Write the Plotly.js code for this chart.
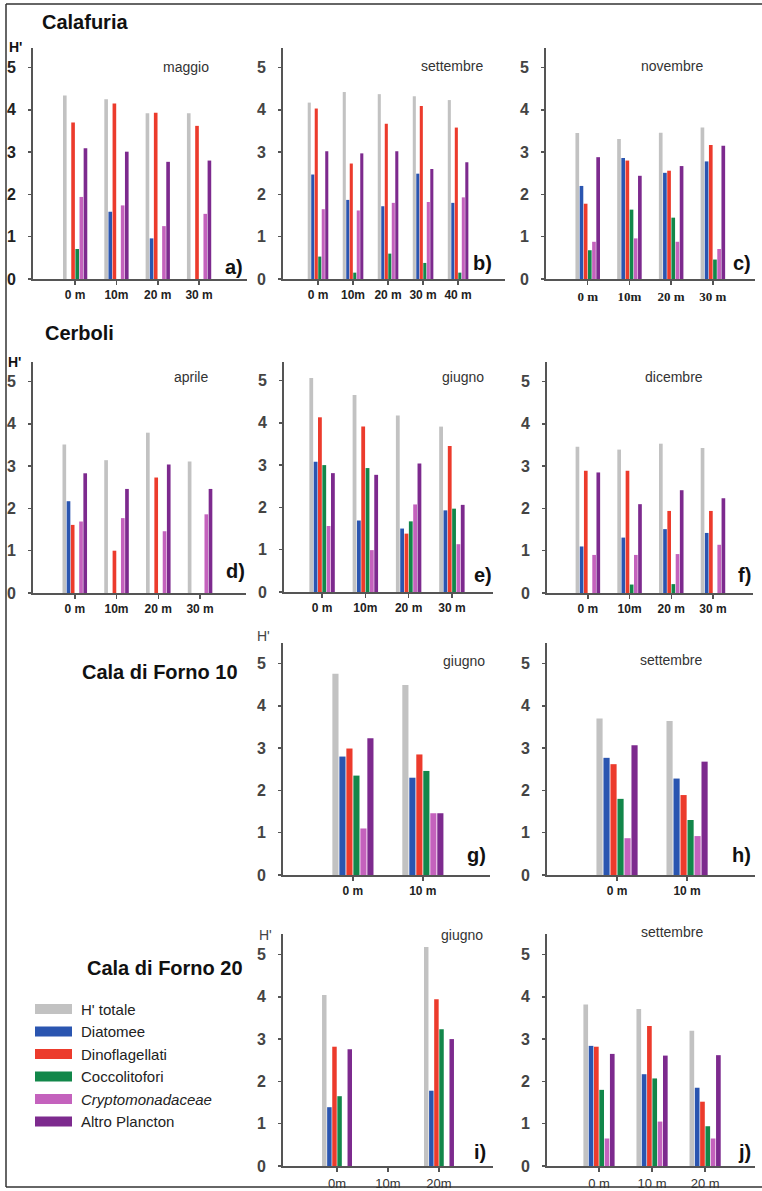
<!DOCTYPE html>
<html><head><meta charset="utf-8">
<script src="https://cdn.plot.ly/plotly-3.0.1.min.js"></script>
<style>html,body{margin:0;padding:0;background:#fff}#chart{width:762px;height:1191px}</style>
</head><body><div id="chart"></div>
<script>
// ---- data ----
const seriesNames = ["H' totale","Diatomee","Dinoflagellati","Coccolitofori","Cryptomonadaceae","Altro Plancton"];
const seriesColors = ["#c2c2c2","#2a55b0","#ec3b2c","#12874a","#c462bd","#7d2a8e"];

const depthsCalafuriaMaggio = ["0 m","10m","20 m","30 m"];
const calafuriaMaggio = [
  [4.34,4.25,3.92,3.92],
  [null,1.59,0.96,null],
  [3.70,4.15,3.93,3.62],
  [0.71,null,null,null],
  [1.94,1.74,1.25,1.54],
  [3.09,3.01,2.77,2.80]
];
const depthsCalafuriaSettembre = ["0 m","10m","20 m","30 m","40 m"];
const calafuriaSettembre = [
  [4.17,4.42,4.37,4.32,4.23],
  [2.47,1.87,1.72,2.49,1.80],
  [4.03,2.73,3.67,4.09,3.58],
  [0.53,0.15,0.60,0.38,0.15],
  [1.65,1.62,1.80,1.82,1.93],
  [3.02,2.97,3.02,2.60,2.76]
];
const depthsCalafuriaNovembre = ["0 m","10m","20 m","30 m"];
const calafuriaNovembre = [
  [3.45,3.31,3.46,3.58],
  [2.20,2.86,2.51,2.78],
  [1.78,2.80,2.56,3.17],
  [0.68,1.64,1.45,0.46],
  [0.88,0.96,0.88,0.71],
  [2.88,2.44,2.67,3.15]
];
const depthsCerboli = ["0 m","10m","20 m","30 m"];
const cerboliAprile = [
  [3.51,3.14,3.79,3.11],
  [2.17,null,null,null],
  [1.61,1.00,2.73,null],
  [null,null,null,null],
  [1.69,1.77,1.46,1.86],
  [2.83,2.46,3.04,2.46]
];
const cerboliGiugno = [
  [5.06,4.66,4.17,3.91],
  [3.08,1.69,1.50,1.93],
  [4.13,3.91,1.38,3.45],
  [3.00,2.93,1.67,1.97],
  [1.56,0.99,2.07,1.13],
  [2.81,2.77,3.04,2.06]
];
const cerboliDicembre = [
  [3.46,3.39,3.53,3.43],
  [1.10,1.31,1.51,1.42],
  [2.89,2.89,1.94,1.94],
  [null,0.20,0.21,null],
  [0.90,0.90,0.92,1.14],
  [2.85,2.10,2.43,2.24]
];
const depthsForno10 = ["0 m","10 m"];
const forno10Giugno = [
  [4.76,4.49],
  [2.80,2.30],
  [2.99,2.85],
  [2.35,2.46],
  [1.10,1.46],
  [3.23,1.46]
];
const forno10Settembre = [
  [3.70,3.64],
  [2.77,2.28],
  [2.62,1.89],
  [1.80,1.30],
  [0.87,0.92],
  [3.07,2.68]
];
const depthsForno20Giugno = ["0m","10m","20m"];
const forno20Giugno = [
  [4.04,null,5.18],
  [1.39,null,1.78],
  [2.82,null,3.94],
  [1.65,null,3.23],
  [null,null,null],
  [2.76,null,3.00]
];
const depthsForno20Settembre = ["0 m","10 m","20 m"];
const forno20Settembre = [
  [3.82,3.71,3.20],
  [2.84,2.17,1.85],
  [2.82,3.31,1.52],
  [1.80,2.07,0.94],
  [0.65,1.05,0.65],
  [2.65,2.61,2.62]
];
const monthLabels = ["maggio","settembre","novembre","aprile","giugno","dicembre","giugno","settembre","giugno","settembre"];
const panelLetters = ["a)","b)","c)","d)","e)","f)","g)","h)","i)","j)"];
const siteTitles = ["Calafuria","Cerboli","Cala di Forno 10","Cala di Forno 20"];

// ---- layout geometry (pixels) ----
const W = 762, H = 1191;
const px = x => x / W;
const py = y => 1 - y / H;
const SANS = "Liberation Sans, Arial, sans-serif";
const SERIF = "Liberation Serif, Times New Roman, serif";
const boldX = {family: SANS, size: 12, color: "#222", weight: "bold"};
const serifX = {family: SERIF, size: 13, color: "#222", weight: "bold"};
const plainX = {family: SANS, size: 13, color: "#333"};

const panels = [
  {cats: depthsCalafuriaMaggio, vals: calafuriaMaggio, box: [33,247,48,279], xr: [-1.02,4.16], month: [186,67], letter: [245,267], tf: boldX},
  {cats: depthsCalafuriaSettembre, vals: calafuriaSettembre, box: [283,505,48,279], xr: [-1.0,5.34], month: [452,66], letter: [494,263], tf: boldX},
  {cats: depthsCalafuriaNovembre, vals: calafuriaNovembre, box: [546,755,48,279], xr: [-1.0,4.01], month: [672,66], letter: [753,263], tf: serifX},
  {cats: depthsCerboli, vals: cerboliAprile, box: [33,246,362,593], xr: [-1.0,4.1], month: [191,377], letter: [247,571], tf: boldX},
  {cats: depthsCerboli, vals: cerboliGiugno, box: [284,493,362,592], xr: [-0.88,3.95], month: [463,377], letter: [494,575], tf: boldX},
  {cats: depthsCerboli, vals: cerboliDicembre, box: [547,753,362,593], xr: [-0.98,3.96], month: [674,377], letter: [753,575], tf: boldX},
  {cats: depthsForno10, vals: forno10Giugno, box: [283,490,643,875], xr: [-1.0,1.96], month: [464,661], letter: [488,855], tf: boldX},
  {cats: depthsForno10, vals: forno10Settembre, box: [547,755,643,875], xr: [-1.0,1.97], month: [671,660], letter: [753,855], tf: boldX},
  {cats: depthsForno20Giugno, vals: forno20Giugno, box: [283,493,934,1166], xr: [-1.06,3.06], month: [462,935], letter: [488,1152], tf: plainX},
  {cats: depthsForno20Settembre, vals: forno20Settembre, box: [547,755,934,1166], xr: [-0.98,2.94], month: [672,932], letter: [753,1152], tf: plainX}
];

const traces = [];
const layout = {
  width: W, height: H,
  margin: {l:0, r:0, t:0, b:0},
  paper_bgcolor: "#fff", plot_bgcolor: "rgba(0,0,0,0)",
  barmode: "group", bargap: 0.4, bargroupgap: 0.12,
  showlegend: false,
  font: {family: SANS, color: "#222"},
  annotations: [], shapes: []
};

panels.forEach((p, i) => {
  const n = i === 0 ? "" : String(i + 1);
  p.vals.forEach((v, s) => {
    traces.push({
      type: "bar", name: seriesNames[s], x: p.cats, y: v,
      xaxis: "x" + n, yaxis: "y" + n,
      marker: {color: seriesColors[s], line: {width: 0}},
      hoverinfo: "skip", showlegend: false
    });
  });
  const [x0, x1, yt, yb] = p.box;
  layout["xaxis" + n] = {
    domain: [px(x0), px(x1)], anchor: "y" + n,
    type: "category", categoryorder: "array", categoryarray: p.cats,
    range: p.xr, showline: true, linecolor: "#555", linewidth: 2,
    ticks: "outside", ticklen: 4, tickcolor: "#555", tickwidth: 1.5,
    showgrid: false, zeroline: false, tickfont: p.tf, fixedrange: true
  };
  layout["yaxis" + n] = {
    domain: [py(yb), py(yt)], anchor: "x" + n,
    range: [0, (yb - yt) / 42.3], tickvals: [0,1,2,3,4,5],
    showline: true, linecolor: "#555", linewidth: 2,
    ticks: "outside", ticklen: 3, tickcolor: "#555", tickwidth: 1.5,
    ticklabelstandoff: 9,
    showgrid: false, zeroline: false, fixedrange: true,
    tickfont: {family: SANS, size: 16, color: i === 0 ? "#222" : "#444", weight: "bold"}
  };
  layout.annotations.push({
    text: monthLabels[i], xref: "paper", yref: "paper",
    x: px(p.month[0]), y: py(p.month[1]), xanchor: "center", yanchor: "middle",
    showarrow: false, font: {family: SANS, size: 14, color: "#333"}
  });
  layout.annotations.push({
    text: panelLetters[i], xref: "paper", yref: "paper",
    x: px(p.letter[0]), y: py(p.letter[1]), xanchor: "right", yanchor: "middle",
    showarrow: false, font: {family: SANS, size: 20, color: "#111", weight: "bold"}
  });
});

// site titles
const titlePos = [[40,22],[43,333],[80,672],[85,968]];
siteTitles.forEach((t, k) => {
  layout.annotations.push({
    text: t, xref: "paper", yref: "paper",
    x: px(titlePos[k][0]), y: py(titlePos[k][1]), xanchor: "left", yanchor: "middle",
    showarrow: false, font: {family: SANS, size: 20, color: "#111", weight: "bold"}
  });
});

// H' axis labels
const hPos = [[7,47,true],[6,362,true],[255,636,false],[257,935,false]];
hPos.forEach(h => {
  layout.annotations.push({
    text: "H'", xref: "paper", yref: "paper",
    x: px(h[0]), y: py(h[1]), xanchor: "left", yanchor: "middle",
    showarrow: false,
    font: {family: SANS, size: 14, color: h[2] ? "#111" : "#444", weight: h[2] ? "bold" : "normal"}
  });
});

// legend (swatches + labels)
seriesNames.forEach((nm, s) => {
  const yc = 1009 + s * 22.5;
  layout.shapes.push({
    type: "rect", xref: "paper", yref: "paper",
    x0: px(35), x1: px(72), y0: py(yc + 5), y1: py(yc - 5),
    fillcolor: seriesColors[s], line: {width: 0}
  });
  layout.annotations.push({
    text: s === 4 ? "<i>" + nm + "</i>" : nm, xref: "paper", yref: "paper",
    x: px(79), y: py(yc), xanchor: "left", yanchor: "middle",
    showarrow: false, font: {family: SANS, size: 15, color: "#222"}
  });
});

// outer frame
const frame = [[6,4,762,4],[6,4,6,1187],[6,1187,762,1187]];
frame.forEach(f => layout.shapes.push({
  type: "line", xref: "paper", yref: "paper",
  x0: px(f[0]), y0: py(f[1]), x1: px(f[2]), y1: py(f[3]),
  line: {color: "#333", width: 1.5}
}));

Plotly.newPlot("chart", traces, layout, {staticPlot: true, displayModeBar: false});
</script>
</body></html>
